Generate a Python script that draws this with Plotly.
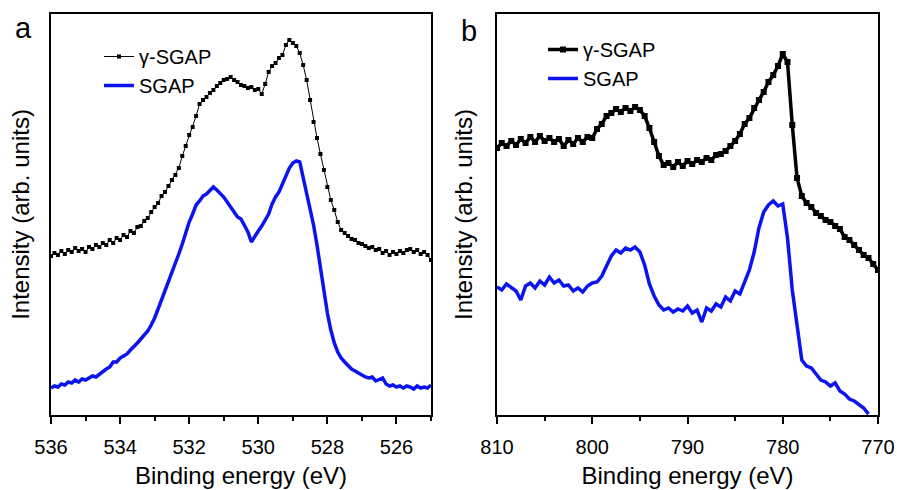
import numpy as np
import plotly.graph_objects as go

# ---------------- data ----------------
# O 1s region, binding energy grid 536.0 -> 525.0 eV, 0.1 eV step
o1s_energy = np.round(np.arange(536.0, 524.95, -0.1), 1)

o1s_gamma_sgap = [
    159, 162, 160, 164, 161, 165, 163, 167, 164, 166,
    163, 168, 166, 170, 168, 172, 170, 175, 172, 177,
    175, 180, 178, 184, 182, 188, 189, 194, 197, 203,
    208, 212, 219, 223, 229, 235, 240, 247, 259, 269,
    280, 288, 299, 311, 315, 318, 322, 325, 329, 332,
    335, 336, 338, 335, 333, 330, 329, 327, 328, 325,
    326, 321, 331, 343, 349, 352, 357, 360, 370, 375,
    372, 369, 362, 350, 335, 315, 293, 277, 261, 245,
    228, 215, 205, 193, 185, 182, 179, 176, 175, 172,
    171, 169, 167, 168, 165, 166, 162, 164, 160, 163,
    161, 164, 162, 165, 166, 163, 165, 161, 163, 160,
    155,
]

o1s_sgap = [
    27, 29, 28, 31, 30, 33, 32, 35, 33, 36,
    35, 37, 39, 38, 41, 43, 46, 48, 53, 53,
    57, 59, 61, 65, 68, 72, 76, 80, 84, 90,
    97, 106, 115, 123, 133, 143, 151, 161, 171, 183,
    193, 201, 210, 214, 219, 221, 225, 228, 225, 222,
    218, 213, 208, 203, 198, 196, 189, 183, 173, 179,
    184, 189, 195, 201, 211, 218, 223, 231, 238, 247,
    252, 254, 253, 238, 223, 207, 190, 170, 147, 125,
    102, 85, 72, 63, 57, 53, 49, 46, 44, 42,
    40, 38, 37, 38, 34, 36, 37, 31, 29, 30,
    28, 29, 27, 29, 28, 26, 29, 27, 28, 27,
    30,
]

# Co 2p region, binding energy grid 810 -> 770 eV, 0.5 eV step
co2p_energy = np.round(np.arange(810.0, 769.9, -0.5), 1)

co2p_gamma_sgap = [
    267, 272, 269, 274, 270, 276, 272, 278, 273, 279,
    274, 277, 273, 276, 269, 275, 271, 277, 273, 278,
    277, 286, 291, 299, 302, 306, 303, 307, 304, 308,
    305, 299, 287, 273, 259, 250, 252, 248, 253, 249,
    254, 251, 255, 253, 257, 255, 260, 261, 264, 269,
    274, 281, 291, 297, 307, 315, 323, 333, 340, 349,
    361, 353, 290, 237, 219, 212, 208, 202, 199, 195,
    193, 189, 186, 178, 175, 170, 165, 160, 157, 151,
    145,
]

co2p_sgap = [
    128, 125, 131, 127, 124, 115, 129, 132, 127, 134,
    130, 138, 132, 135, 129, 130, 124, 127, 123, 129,
    132, 133, 139, 149, 159, 165, 162, 167, 165, 168,
    163, 150, 131, 119, 110, 105, 107, 103, 106, 104,
    109, 102, 105, 93, 107, 104, 111, 108, 118, 114,
    124, 121, 133, 145, 163, 187, 203, 210, 214, 209,
    211, 177, 125, 90, 55, 49, 47, 41, 35, 33,
    29, 32, 24, 21, 16, 14, 11, 7, 1,
]

series_names = ["γ-SGAP", "SGAP"]
panel_labels = ["a", "b"]
x_title = "Binding energy (eV)"
y_title = "Intensity (arb. units)"

# ---------------- figure ----------------
FONT = "Liberation Sans, Arial, sans-serif"
BLUE = "#0a14f0"

fig = go.Figure()

fig.add_trace(go.Scatter(
    x=o1s_energy, y=o1s_gamma_sgap, name=series_names[0], mode="lines+markers",
    line=dict(color="black", width=1),
    marker=dict(symbol="square", size=4, color="black"),
    xaxis="x", yaxis="y", legend="legend",
))
fig.add_trace(go.Scatter(
    x=o1s_energy, y=o1s_sgap, name=series_names[1], mode="lines",
    line=dict(color=BLUE, width=3.5),
    xaxis="x", yaxis="y", legend="legend",
))
fig.add_trace(go.Scatter(
    x=co2p_energy[:len(co2p_gamma_sgap)], y=co2p_gamma_sgap, name=series_names[0],
    mode="lines+markers",
    line=dict(color="black", width=3.5),
    marker=dict(symbol="square", size=6, color="black"),
    xaxis="x2", yaxis="y2", legend="legend2",
))
fig.add_trace(go.Scatter(
    x=co2p_energy[:len(co2p_sgap)], y=co2p_sgap, name=series_names[1], mode="lines",
    line=dict(color=BLUE, width=3.5),
    xaxis="x2", yaxis="y2", legend="legend2",
))

W, H = 897, 490
ydom = [(H - 415) / H, (H - 14) / H]

axis_common = dict(
    showline=True, linecolor="black", linewidth=1.6, mirror=True,
    showgrid=False, zeroline=False,
    tickfont=dict(family=FONT, size=20, color="black"),
    title_font=dict(family=FONT, size=24, color="black"),
)

fig.update_layout(
    width=W, height=H,
    margin=dict(l=0, r=0, t=0, b=0),
    paper_bgcolor="white", plot_bgcolor="white",
    font=dict(family=FONT, color="black"),
    xaxis=dict(
        domain=[51 / W, 431 / W], range=[536, 525], anchor="y",
        tickmode="array", tickvals=[536, 534, 532, 530, 528, 526],
        ticks="outside", ticklen=7, tickwidth=1.5, tickcolor="black",
        ticklabelstandoff=6,
        minor=dict(tickvals=[535, 533, 531, 529, 527, 525], ticks="outside",
                   ticklen=4, tickwidth=1.5, tickcolor="black"),
        title=dict(text=x_title, standoff=10),
        automargin=False, **axis_common,
    ),
    yaxis=dict(
        domain=ydom, range=[0, 401], anchor="x",
        showticklabels=False, ticks="",
        title=dict(text=y_title, standoff=13),
        automargin=False, **axis_common,
    ),
    xaxis2=dict(
        domain=[497 / W, 878 / W], range=[810, 770], anchor="y2",
        tickmode="array", tickvals=[810, 800, 790, 780, 770],
        ticks="outside", ticklen=7, tickwidth=1.5, tickcolor="black",
        ticklabelstandoff=6,
        minor=dict(tickvals=[805, 795, 785, 775], ticks="outside",
                   ticklen=4, tickwidth=1.5, tickcolor="black"),
        title=dict(text=x_title, standoff=10),
        automargin=False, **axis_common,
    ),
    yaxis2=dict(
        domain=ydom, range=[0, 401], anchor="x2",
        showticklabels=False, ticks="",
        title=dict(text=y_title, standoff=16),
        automargin=False, **axis_common,
    ),
    legend=dict(
        x=99 / W, y=(H - 37) / H, xanchor="left", yanchor="top",
        bgcolor="rgba(0,0,0,0)", font=dict(family=FONT, size=20, color="black"),
        tracegroupgap=0, itemwidth=30,
    ),
    legend2=dict(
        x=543 / W, y=(H - 30) / H, xanchor="left", yanchor="top",
        bgcolor="rgba(0,0,0,0)", font=dict(family=FONT, size=20, color="black"),
        tracegroupgap=0, itemwidth=30,
    ),
    annotations=[
        dict(text=panel_labels[0], x=23 / W, y=(H - 28) / H, xref="paper", yref="paper",
             xanchor="center", yanchor="middle",
             showarrow=False, font=dict(family=FONT, size=29, color="black")),
        dict(text=panel_labels[1], x=469 / W, y=(H - 31) / H, xref="paper", yref="paper",
             xanchor="center", yanchor="middle",
             showarrow=False, font=dict(family=FONT, size=29, color="black")),
    ],
)

fig.write_html("out.html", config={"displayModeBar": False},
               post_script="document.body.style.margin='0';")
